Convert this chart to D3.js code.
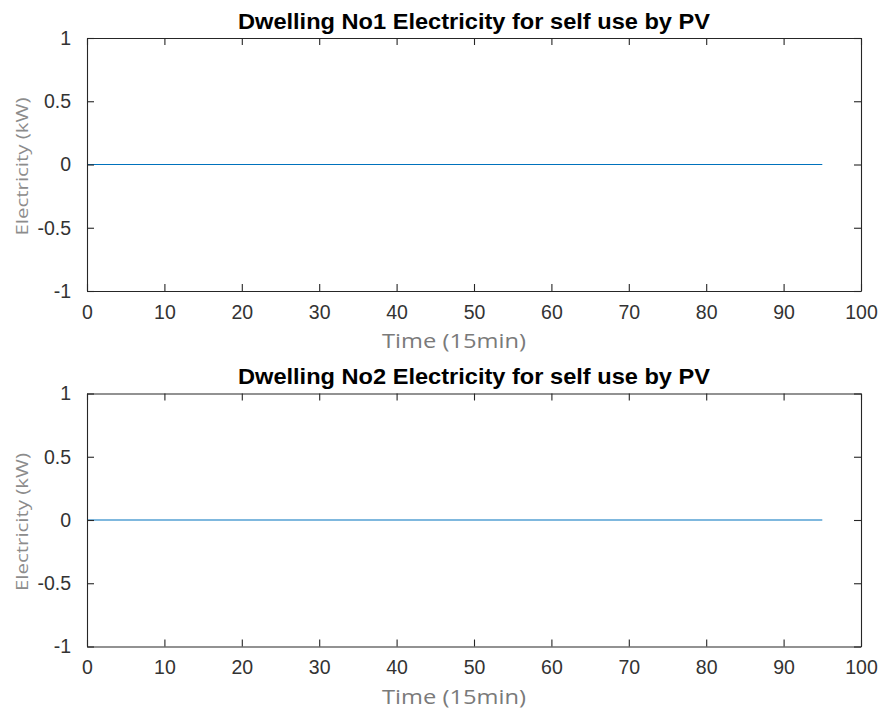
<!DOCTYPE html>
<html>
<head>
<meta charset="utf-8">
<script src="https://cdn.jsdelivr.net/npm/d3@7"></script>
<style>
  body { margin: 0; background: #fff; }
  svg { display: block; }
</style>
</head>
<body>
<div id="chart"></div>
<script>
// data (both dwellings are flat at zero)
var timeSteps = [0,1,2,3,4,5,6,7,8,9,10,11,12,13,14,15,16,17,18,19,20,21,22,23,
                 24,25,26,27,28,29,30,31,32,33,34,35,36,37,38,39,40,41,42,43,44,45,46,47,
                 48,49,50,51,52,53,54,55,56,57,58,59,60,61,62,63,64,65,66,67,68,69,70,71,
                 72,73,74,75,76,77,78,79,80,81,82,83,84,85,86,87,88,89,90,91,92,93,94,95];
var dwelling1 = [0,0,0,0,0,0,0,0,0,0,0,0,0,0,0,0,0,0,0,0,0,0,0,0,
                 0,0,0,0,0,0,0,0,0,0,0,0,0,0,0,0,0,0,0,0,0,0,0,0,
                 0,0,0,0,0,0,0,0,0,0,0,0,0,0,0,0,0,0,0,0,0,0,0,0,
                 0,0,0,0,0,0,0,0,0,0,0,0,0,0,0,0,0,0,0,0,0,0,0,0];
var dwelling2 = [0,0,0,0,0,0,0,0,0,0,0,0,0,0,0,0,0,0,0,0,0,0,0,0,
                 0,0,0,0,0,0,0,0,0,0,0,0,0,0,0,0,0,0,0,0,0,0,0,0,
                 0,0,0,0,0,0,0,0,0,0,0,0,0,0,0,0,0,0,0,0,0,0,0,0,
                 0,0,0,0,0,0,0,0,0,0,0,0,0,0,0,0,0,0,0,0,0,0,0,0];
var titles = ["Dwelling No1 Electricity for self use by PV",
              "Dwelling No2 Electricity for self use by PV"];
var xTicks = [0, 10, 20, 30, 40, 50, 60, 70, 80, 90, 100];
var yTicks = [-1, -0.5, 0, 0.5, 1];

// svg container
var svgWidth = 884;
var svgHeight = 726;

var svg = d3.select("#chart")
            .append("svg")
            .attr("width", svgWidth)
            .attr("height", svgHeight);

var plotLeft = 87;
var plotWidth = 774;
var plotHeight = 253;
var plotTops = [38, 393.5];
var series = [dwelling1, dwelling2];

var axisColor = "#262626";
var tickLen = 7;

// hyphen minus like matlab
var fmt = function(d) { return String(d); };

var xScale = d3.scaleLinear().domain([0, 100]).range([0, plotWidth]);
var yScale = d3.scaleLinear().domain([-1, 1]).range([plotHeight, 0]);

var line = d3.line()
             .x(function(d) { return xScale(d[0]); })
             .y(function(d) { return yScale(d[1]); });

series.forEach(function(vals, i) {
    var g = svg.append("g")
               .attr("transform", `translate(${plotLeft}, ${plotTops[i]})`);

    // data line
    g.append("path")
     .datum(timeSteps.map(function(t, k) { return [t, vals[k]]; }))
     .attr("fill", "none")
     .attr("stroke", "#0072BD")
     .attr("stroke-width", 1.2)
     .attr("d", line);

    // bottom axis with labels
    var xb = g.append("g")
              .attr("transform", `translate(0, ${plotHeight})`)
              .call(d3.axisBottom(xScale).tickValues(xTicks).tickFormat(fmt)
                      .tickSizeInner(-tickLen).tickSizeOuter(0).tickPadding(14));
    // top axis, ticks only
    var xt = g.append("g")
              .call(d3.axisTop(xScale).tickValues(xTicks).tickFormat("")
                      .tickSizeInner(-tickLen).tickSizeOuter(0));
    // left axis with labels
    var yl = g.append("g")
              .call(d3.axisLeft(yScale).tickValues(yTicks).tickFormat(fmt)
                      .tickSizeInner(-tickLen).tickSizeOuter(0).tickPadding(16));
    // right axis, ticks only
    var yr = g.append("g")
              .attr("transform", `translate(${plotWidth}, 0)`)
              .call(d3.axisRight(yScale).tickValues(yTicks).tickFormat("")
                      .tickSizeInner(-tickLen).tickSizeOuter(0));

    [xb, xt, yl, yr].forEach(function(a) {
        a.select(".domain").attr("stroke", axisColor).attr("stroke-width", 1.1);
        a.selectAll(".tick line").attr("stroke", axisColor).attr("stroke-width", 1.1);
        a.selectAll(".tick text")
         .attr("fill", "#333")
         .style("font-family", "'Liberation Sans', Arial, sans-serif")
         .style("font-size", "19.5px");
    });
    xb.selectAll(".tick text").attr("dy", "0.71em");

    // title
    g.append("text")
     .attr("x", plotWidth / 2)
     .attr("y", -9.5)
     .attr("text-anchor", "middle")
     .attr("fill", "#000")
     .attr("textLength", 472)
     .attr("lengthAdjust", "spacingAndGlyphs")
     .style("font-family", "'Liberation Sans', Arial, sans-serif")
     .style("font-weight", "bold")
     .style("font-size", "22.5px")
     .text(titles[i]);

    // x label
    g.append("text")
     .attr("x", 454 - plotLeft)
     .attr("y", plotHeight + 57)
     .attr("text-anchor", "middle")
     .attr("fill", "#7a7a7a")
     .attr("textLength", 144)
     .attr("lengthAdjust", "spacingAndGlyphs")
     .style("font-family", "'Open Sans', sans-serif")
     .style("font-size", "20px")
     .text("Time (15min)");

    // y label
    g.append("text")
     .attr("transform", `translate(${28 - plotLeft}, ${plotHeight / 2 + 2}) rotate(-90)`)
     .attr("text-anchor", "middle")
     .attr("fill", "#8c8c8c")
     .attr("textLength", 138)
     .attr("lengthAdjust", "spacingAndGlyphs")
     .style("font-family", "'Open Sans', sans-serif")
     .style("font-size", "16.5px")
     .text("Electricity (kW)");
});
</script>
</body>
</html>
